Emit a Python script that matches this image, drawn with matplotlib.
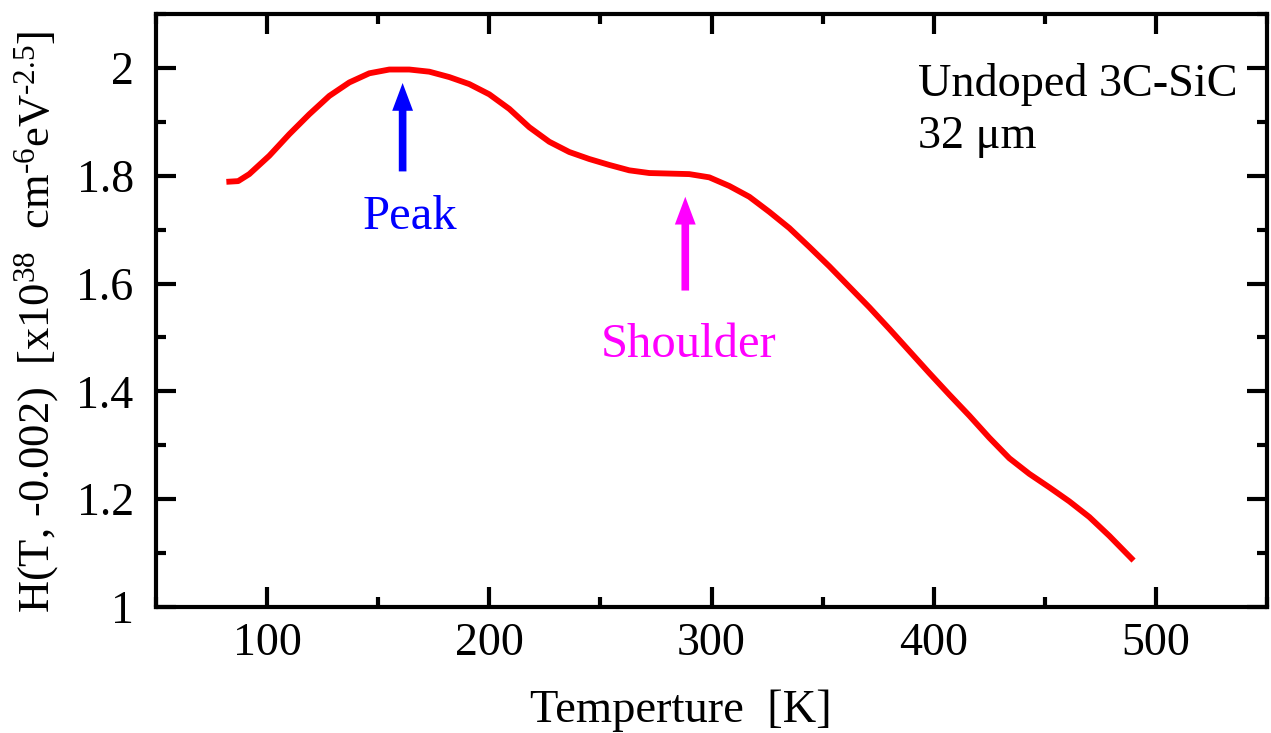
import numpy as np
import matplotlib
matplotlib.use("Agg")
import matplotlib.pyplot as plt
from matplotlib.ticker import MultipleLocator

plt.rcParams['font.family'] = ['Liberation Serif', 'DejaVu Serif']
plt.rcParams['mathtext.fontset'] = 'custom'
plt.rcParams['mathtext.rm'] = 'Liberation Serif'
plt.rcParams['mathtext.it'] = 'Liberation Serif:italic'

# data
temperature = [83, 87, 92, 101, 110, 119, 128, 137, 146, 155, 164, 173, 182, 191,
               200, 209, 218, 227, 236, 245, 254, 263, 272, 281, 290, 299, 308,
               317, 326, 335, 344, 353, 362, 371, 380, 389, 398, 407, 416, 425,
               434, 443, 452, 461, 470, 479, 489]
h_value = [1.789, 1.790, 1.803, 1.837, 1.877, 1.914, 1.948, 1.973, 1.990, 1.997,
           1.997, 1.993, 1.983, 1.970, 1.951, 1.924, 1.890, 1.863, 1.844, 1.831,
           1.820, 1.810, 1.805, 1.804, 1.803, 1.797, 1.781, 1.761, 1.733, 1.703,
           1.668, 1.632, 1.594, 1.556, 1.516, 1.475, 1.434, 1.394, 1.355, 1.314,
           1.276, 1.247, 1.222, 1.196, 1.167, 1.132, 1.090]

peak_T = 161.0
shoulder_T = 288.2

fig = plt.figure(figsize=(12.71, 7.33), dpi=100)
ax = fig.add_axes([0.1227, 0.1719, 0.8742, 0.809])

ax.plot(temperature, h_value, color='#ff0000', lw=4.2, solid_joinstyle='round')

# arrows
arrow_kw = dict(width=5.5, headwidth=15, headlength=20, shrink=0, lw=0)
ax.annotate('', xy=(peak_T, 1.972), xytext=(peak_T, 1.808),
            arrowprops=dict(color='#0000ff', **arrow_kw))
ax.annotate('', xy=(shoulder_T, 1.761), xytext=(shoulder_T, 1.587),
            arrowprops=dict(color='#ff00ff', **arrow_kw))
ax.text(164.3, 1.702, 'Peak', color='#0000ff', fontsize=35,
        ha='center', va='baseline')
ax.text(289.7, 1.4635, 'Shoulder', color='#ff00ff', fontsize=35,
        ha='center', va='baseline')

ax.text(0.686, 0.862, 'Undoped 3C-SiC', transform=ax.transAxes,
        fontsize=33.3, ha='left', va='baseline')
ax.text(0.686, 0.774, '32 \u03bcm', transform=ax.transAxes,
        fontsize=33.3, ha='left', va='baseline')

ax.set_xlim(50, 550)
ax.set_ylim(1, 2.1)
ax.xaxis.set_major_locator(MultipleLocator(100))
ax.xaxis.set_minor_locator(MultipleLocator(50))
ax.yaxis.set_minor_locator(MultipleLocator(0.1))
ax.set_yticks([1, 1.2, 1.4, 1.6, 1.8, 2])
ax.set_yticklabels(['1', '1.2', '1.4', '1.6', '1.8', '2'])

ax.tick_params(which='both', direction='in', top=True, right=True,
               width=3, labelsize=33)
ax.tick_params(which='major', length=14.5)
ax.tick_params(which='minor', length=7)
ax.tick_params(axis='y', pad=16)
ax.tick_params(axis='x', pad=11)
for s in ax.spines.values():
    s.set_linewidth(3)

ax.set_xlabel('Temperture  [K]', fontsize=33.5, va='baseline')
ax.xaxis.set_label_coords(0.4725, -0.194)
ax.set_ylabel('H(T, -0.002)  [x10$^{38}$  cm$^{\u20106}$eV$^{\u20102.5}$]', fontsize=32)
ax.yaxis.set_label_coords(-0.0855, 0.481)

fig.savefig('out.png', dpi=100)
